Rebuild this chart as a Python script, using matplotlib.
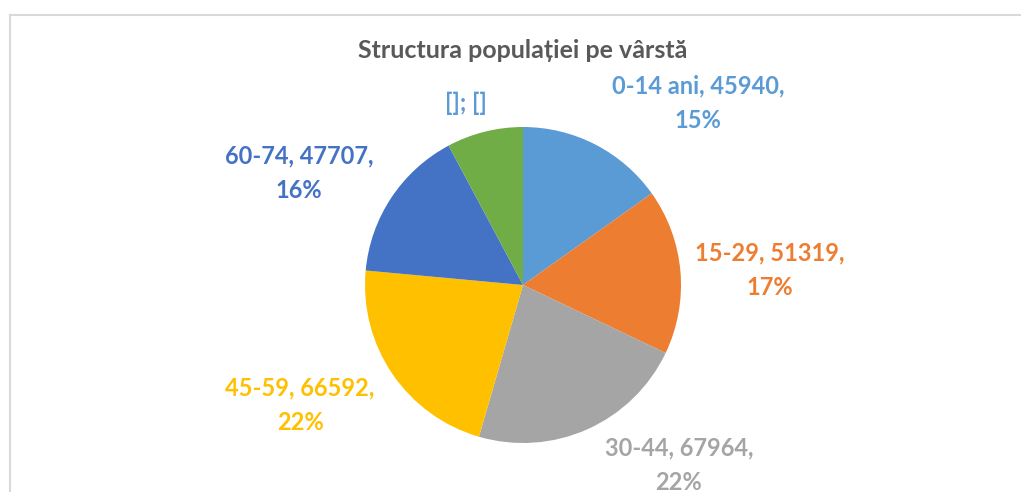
import matplotlib
matplotlib.use('Agg')
import matplotlib.pyplot as plt
from matplotlib.lines import Line2D

plt.rcParams['font.family'] = ['Lato', 'DejaVu Sans']

# data
labels = ['0-14 ani', '15-29', '30-44', '45-59', '60-74', '']
values = [45940, 51319, 67964, 66592, 47707, 23650]
colors = ['#5B9BD5', '#ED7D31', '#A5A5A5', '#FFC000', '#4472C4', '#70AD47']
label_texts = ['0-14 ani, 45940,\n15%', '15-29, 51319,\n17%',
               '30-44, 67964,\n22%', '45-59, 66592,\n22%',
               '60-74, 47707,\n16%', '[]; []']
label_colors = ['#5B9BD5', '#ED7D31', '#A5A5A5', '#FFC000', '#4472C4', '#5B9BD5']
# label positions in pie radius units
label_pos = [(1.108, 1.152), (1.563, 0.095), (0.987, -1.139),
             (-1.411, -0.759), (-1.418, 0.709), (-0.361, 1.152)]

W, H = 1021, 492
fig = plt.figure(figsize=(W / 100, H / 100), dpi=100)

cx, cy, r = 523, 285, 158
ax = fig.add_axes([(cx - r) / W, (H - cy - r) / H, 2 * r / W, 2 * r / H])
ax.pie(values, colors=colors, startangle=90, counterclock=False, radius=1)
ax.set_xlim(-1, 1)
ax.set_ylim(-1, 1)
ax.set_aspect('equal')
ax.axis('off')

for txt, col, (x, y) in zip(label_texts, label_colors, label_pos):
    ax.text(x, y, txt, color=col, fontsize=17, fontweight='bold',
            ha='center', va='center', linespacing=1.6)

fig.text(cx / W, 1 - 50 / H, 'Structura populației pe vârstă',
         ha='center', va='center', fontsize=18, fontweight='bold',
         color='#595959')

# chart border (left and top visible)
bx, by = 10 / W, 1 - 15 / H
fig.add_artist(Line2D([bx, bx], [0, by], transform=fig.transFigure,
                      color='#d9d9d9', lw=1.5))
fig.add_artist(Line2D([bx, 1], [by, by], transform=fig.transFigure,
                      color='#d9d9d9', lw=1.5))

fig.savefig('out.png', dpi=100)
